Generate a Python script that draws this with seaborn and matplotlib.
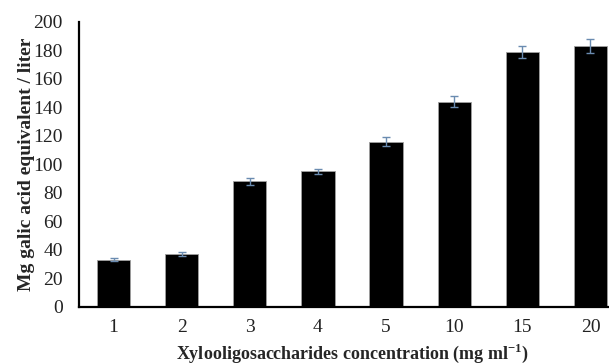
import numpy as np
import pandas as pd
import matplotlib
matplotlib.use("Agg")
import matplotlib.pyplot as plt
import seaborn as sns

# data
concentrations = ["1", "2", "3", "4", "5", "10", "15", "20"]
gallic_eq = [33, 37, 88, 95, 116, 144, 179, 183]
errors = [1.0, 1.2, 2.5, 2.0, 3.0, 3.7, 4.2, 4.7]

sns.set_theme(style="white")
plt.rcParams["font.family"] = ["Liberation Serif", "DejaVu Serif"]
plt.rcParams["mathtext.fontset"] = "custom"
plt.rcParams["mathtext.rm"] = "Liberation Serif"
plt.rcParams["mathtext.bf"] = "Liberation Serif:bold"

df = pd.DataFrame({"conc": concentrations, "value": gallic_eq})

fig = plt.figure(figsize=(6.09, 3.64), dpi=100)
ax = fig.add_axes([0.1305, 0.157, 0.895, 0.783])

sns.barplot(data=df, x="conc", y="value", order=concentrations,
            color="black", width=0.49, edgecolor="#a0a0a0", linewidth=0.6,
            errorbar=None, ax=ax, saturation=1)
ax.errorbar(np.arange(len(concentrations)), gallic_eq, yerr=errors,
            fmt="none", ecolor="#6a8bb0", elinewidth=1.0, capsize=3, capthick=1.0)

ax.set_ylim(0, 200)
ax.set_xlim(-0.5, 7.5)
ax.set_yticks(range(0, 201, 20))
ax.tick_params(axis="both", length=0, labelsize=14, colors="#222222")
ax.tick_params(axis="y", pad=12)
ax.tick_params(axis="x", pad=9)

for side in ["top", "right"]:
    ax.spines[side].set_visible(False)
for side in ["left", "bottom"]:
    ax.spines[side].set_color("black")
    ax.spines[side].set_linewidth(1.6)

ax.set_xlabel("Xylooligosaccharides concentration (mg ml$^{\\mathbf{-1}}$)",
              fontsize=13, fontweight="bold", labelpad=4)
ax.set_ylabel("Mg galic acid equivalent / liter", fontsize=14,
              fontweight="bold", labelpad=-1)

fig.savefig("out.png", dpi=100)
